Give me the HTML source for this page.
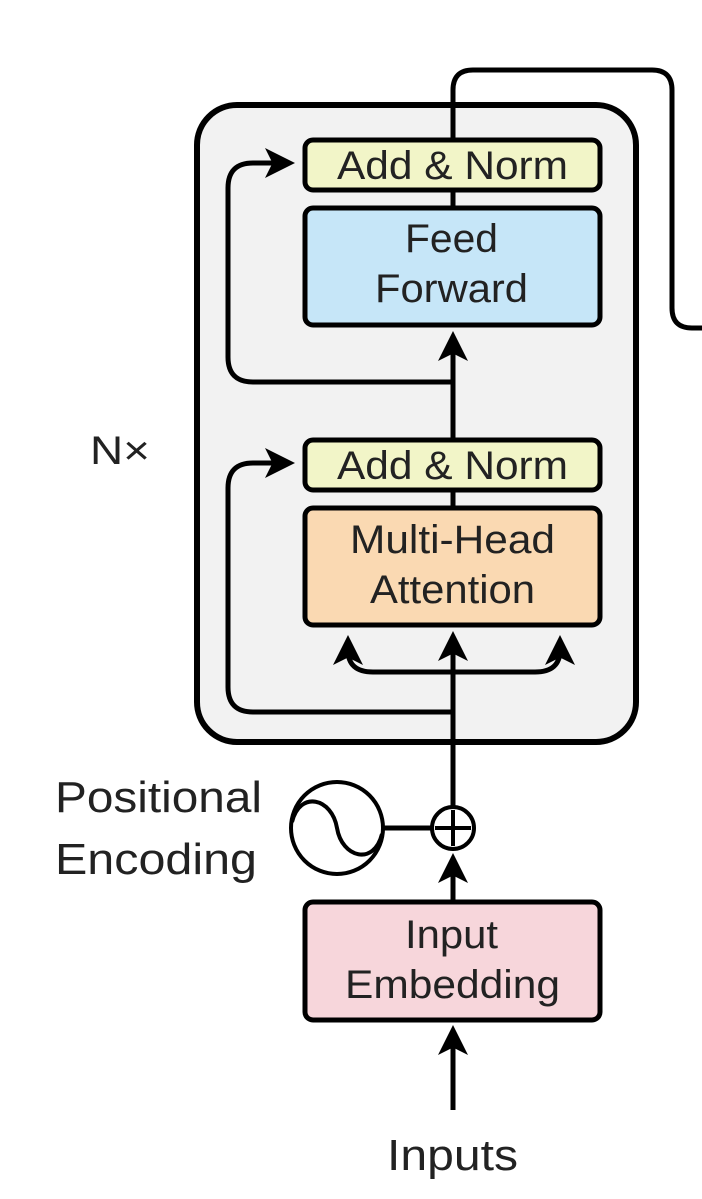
<!DOCTYPE html>
<html><head><meta charset="utf-8"><style>
html,body{margin:0;padding:0;background:#fff;}
svg{display:block;}
text{font-family:"Liberation Sans",sans-serif;fill:#222;}
</style></head><body>
<svg width="702" height="1199" viewBox="0 0 702 1199" xmlns="http://www.w3.org/2000/svg">
<defs>
<marker id="ah" markerWidth="6" markerHeight="6" refX="5" refY="3" orient="auto" markerUnits="strokeWidth">
<path d="M0,0 L6,3 L0,6 L1.5,3 Z" fill="#000"/>
</marker>
</defs>
<rect x="197" y="105" width="439" height="637" rx="40" fill="#f2f2f2" stroke="#000" stroke-width="6"/>
<path d="M453,140 L453,90 Q453,70 473,70 L652,70 Q672,70 672,90 L672,308 Q672,328 692,328 L702,328" fill="none" stroke="#000" stroke-width="5"/>
<line x1="453" y1="1110" x2="453" y2="1030" stroke="#000" stroke-width="5" marker-end="url(#ah)"/>
<line x1="453" y1="902" x2="453" y2="858" stroke="#000" stroke-width="5" marker-end="url(#ah)"/>
<line x1="453" y1="808" x2="453" y2="636" stroke="#000" stroke-width="5" marker-end="url(#ah)"/>
<line x1="453" y1="490" x2="453" y2="336" stroke="#000" stroke-width="5" marker-end="url(#ah)"/>
<line x1="453" y1="190" x2="453" y2="208" stroke="#000" stroke-width="5"/>
<line x1="453" y1="490" x2="453" y2="508" stroke="#000" stroke-width="5"/>
<path d="M453,672 L373,672 Q348,672 348,650 L348,640" fill="none" stroke="#000" stroke-width="5" marker-end="url(#ah)"/>
<path d="M453,672 L535,672 Q560,672 560,650 L560,640" fill="none" stroke="#000" stroke-width="5" marker-end="url(#ah)"/>
<path d="M453,712 L253,712 Q228,712 228,687 L228,488 Q228,463 253,463 L290,463" fill="none" stroke="#000" stroke-width="5" marker-end="url(#ah)"/>
<path d="M453,382 L253,382 Q228,382 228,357 L228,188 Q228,163 253,163 L290,163" fill="none" stroke="#000" stroke-width="5" marker-end="url(#ah)"/>
<rect x="305" y="140" width="295" height="50" rx="8" fill="#f2f5c8" stroke="#000" stroke-width="5"/>
<text x="337" y="179" font-size="40" textLength="231" lengthAdjust="spacingAndGlyphs">Add &amp; Norm</text>
<rect x="305" y="208" width="295" height="117" rx="8" fill="#c6e6f8" stroke="#000" stroke-width="5"/>
<text x="405" y="252" font-size="40" textLength="93" lengthAdjust="spacingAndGlyphs">Feed</text>
<text x="375" y="302" font-size="40" textLength="153" lengthAdjust="spacingAndGlyphs">Forward</text>
<rect x="305" y="440" width="295" height="50" rx="8" fill="#f2f5c8" stroke="#000" stroke-width="5"/>
<text x="337" y="479" font-size="40" textLength="231" lengthAdjust="spacingAndGlyphs">Add &amp; Norm</text>
<rect x="305" y="508" width="295" height="117" rx="8" fill="#fad9b2" stroke="#000" stroke-width="5"/>
<text x="350" y="553" font-size="40" textLength="205" lengthAdjust="spacingAndGlyphs">Multi-Head</text>
<text x="370" y="603" font-size="40" textLength="165" lengthAdjust="spacingAndGlyphs">Attention</text>
<rect x="305" y="902" width="295" height="118" rx="8" fill="#f7d6db" stroke="#000" stroke-width="5"/>
<text x="405" y="948" font-size="40" textLength="93" lengthAdjust="spacingAndGlyphs">Input</text>
<text x="345" y="998" font-size="40" textLength="215" lengthAdjust="spacingAndGlyphs">Embedding</text>
<line x1="383" y1="828" x2="433" y2="828" stroke="#000" stroke-width="5"/>
<circle cx="337" cy="828" r="46" fill="#fff" stroke="#000" stroke-width="4"/>
<path d="M292,822 C300,790 332,798 337,828 C342,858 374,866 382,834" fill="none" stroke="#000" stroke-width="4"/>
<circle cx="453" cy="828" r="21" fill="#fff" stroke="#000" stroke-width="4"/>
<line x1="453" y1="810" x2="453" y2="846" stroke="#000" stroke-width="4"/>
<line x1="435" y1="828" x2="471" y2="828" stroke="#000" stroke-width="4"/>
<text x="55" y="812" font-size="44" textLength="207" lengthAdjust="spacingAndGlyphs">Positional</text>
<text x="55" y="874" font-size="44" textLength="202" lengthAdjust="spacingAndGlyphs">Encoding</text>
<text x="90" y="464" font-size="40" textLength="60" lengthAdjust="spacingAndGlyphs">N×</text>
<text x="387" y="1170" font-size="44" textLength="131" lengthAdjust="spacingAndGlyphs">Inputs</text>
</svg>
</body></html>
